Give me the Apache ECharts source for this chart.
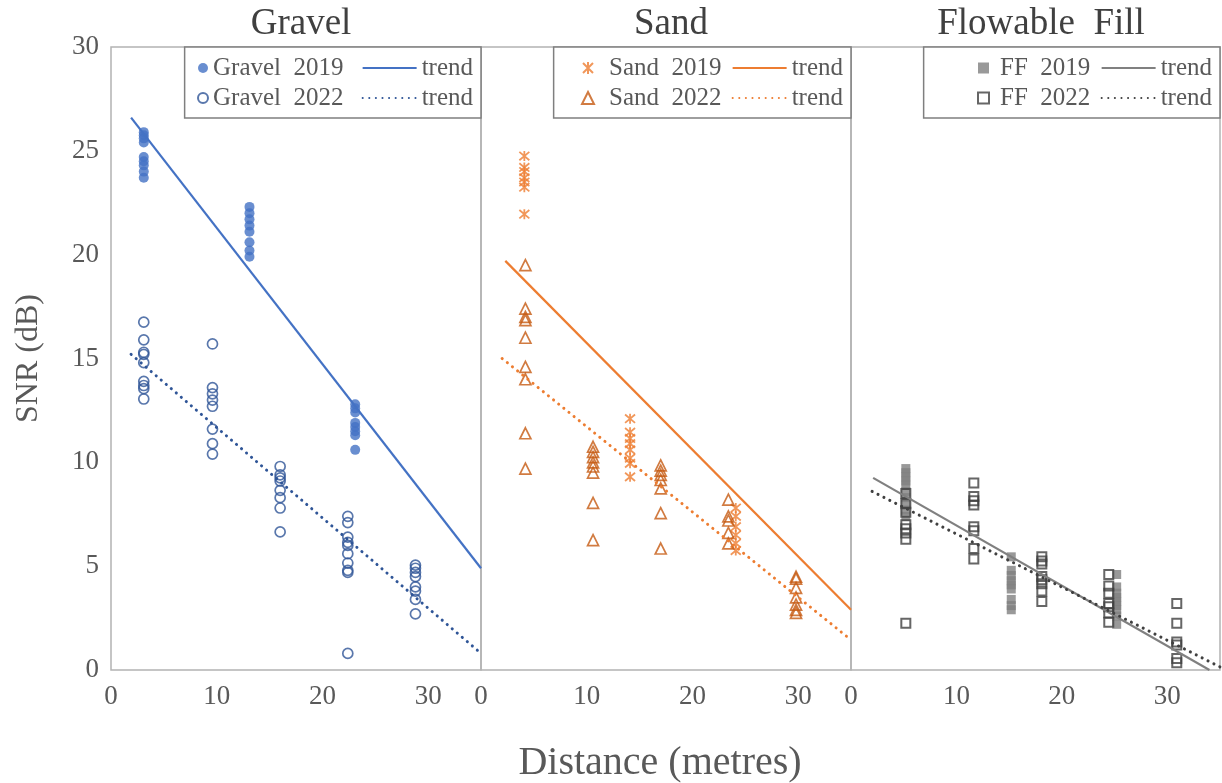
<!DOCTYPE html>
<html>
<head>
<meta charset="utf-8">
<script src="https://cdn.jsdelivr.net/npm/echarts@6/dist/echarts.min.js"></script>
<style>html,body{margin:0;padding:0;background:#fff}#c{width:1222px;height:783px}</style>
</head>
<body>
<div id="c"></div>
<script>
// ---- DATA ----
const panelTitles = ['Gravel', 'Sand', 'Flowable  Fill'];
const xTicks = [0, 10, 20, 30];
const yTicks = [0, 5, 10, 15, 20, 25, 30];

const gravel2019 = [
  [3.1, 25.9], [3.1, 25.75], [3.1, 25.6], [3.1, 25.4], [3.1, 24.7], [3.1, 24.5], [3.1, 24.3], [3.1, 24.0], [3.1, 23.7],
  [13.1, 22.3], [13.1, 22.0], [13.1, 21.7], [13.1, 21.4], [13.1, 21.1], [13.1, 20.6], [13.1, 20.2], [13.1, 19.9],
  [23.1, 12.8], [23.1, 12.6], [23.1, 12.4], [23.1, 11.9], [23.1, 11.7], [23.1, 11.5], [23.1, 11.3], [23.1, 10.6]
];
const gravel2022 = [
  [3.1, 16.75], [3.1, 15.9], [3.1, 15.3], [3.1, 15.2], [3.1, 14.8], [3.1, 13.9], [3.1, 13.7], [3.1, 13.55], [3.1, 13.05],
  [9.6, 15.7], [9.6, 13.6], [9.6, 13.3], [9.6, 13.0], [9.6, 12.7], [9.6, 11.6], [9.6, 10.9], [9.6, 10.4],
  [16.0, 9.8], [16.0, 9.4], [16.0, 9.25], [16.0, 9.1], [16.0, 8.65], [16.0, 8.3], [16.0, 7.8], [16.0, 6.65],
  [22.4, 7.4], [22.4, 7.1], [22.4, 6.4], [22.4, 6.15], [22.4, 6.0], [22.4, 5.6], [22.4, 5.15], [22.4, 4.8], [22.4, 4.7], [22.4, 0.8],
  [28.8, 5.05], [28.8, 4.9], [28.8, 4.7], [28.8, 4.5], [28.8, 4.0], [28.8, 3.8], [28.8, 3.4], [28.8, 2.7]
];
const gravelTrend2019 = [[1.9, 26.6], [35, 4.9]];
const gravelTrend2022 = [[1.9, 15.2], [35, 0.8]];

const sand2019 = [
  [4.1, 24.75], [4.1, 24.2], [4.1, 24.0], [4.1, 23.7], [4.1, 23.5], [4.1, 23.25], [4.1, 21.95],
  [14.1, 12.1], [14.1, 11.45], [14.1, 11.15], [14.1, 10.9], [14.1, 10.6], [14.1, 10.2], [14.1, 9.95], [14.1, 9.3],
  [24.1, 7.8], [24.1, 7.4], [24.1, 6.9], [24.1, 6.5], [24.1, 6.1], [24.1, 5.75]
];
const sand2022 = [
  [4.2, 19.5], [4.2, 17.4], [4.2, 17.0], [4.2, 16.85], [4.2, 16.0], [4.2, 14.6], [4.2, 14.0], [4.2, 11.4], [4.2, 9.7],
  [10.6, 10.75], [10.6, 10.5], [10.6, 10.25], [10.6, 10.0], [10.6, 9.8], [10.6, 9.5], [10.6, 8.05], [10.6, 6.25],
  [17.0, 9.85], [17.0, 9.6], [17.0, 9.4], [17.0, 9.15], [17.0, 8.75], [17.0, 7.55], [17.0, 5.85],
  [23.4, 8.2], [23.4, 7.4], [23.4, 7.2], [23.4, 6.6], [23.4, 6.1],
  [29.8, 4.5], [29.8, 4.4], [29.8, 3.95], [29.8, 3.5], [29.8, 3.15], [29.8, 2.9], [29.8, 2.75]
];
const sandTrend2019 = [[2.3, 19.7], [35, 2.9]];
const sandTrend2022 = [[2.0, 15.0], [35, 1.45]];

const ff2019 = [
  [5.2, 9.7], [5.2, 9.5], [5.2, 9.3], [5.2, 9.1], [5.2, 8.9], [5.2, 8.6], [5.2, 8.3], [5.2, 8.0], [5.2, 7.7], [5.2, 7.4],
  [15.2, 5.45], [15.2, 4.8], [15.2, 4.55], [15.2, 4.3], [15.2, 4.1], [15.2, 3.9], [15.2, 3.4], [15.2, 3.1], [15.2, 2.9],
  [25.2, 4.6], [25.2, 4.0], [25.2, 3.7], [25.2, 3.5], [25.2, 3.3], [25.2, 3.1], [25.2, 2.9], [25.2, 2.6], [25.2, 2.2]
];
const ff2022 = [
  [5.2, 8.5], [5.2, 8.0], [5.2, 7.6], [5.2, 7.0], [5.2, 6.8], [5.2, 6.6], [5.2, 6.3], [5.2, 2.25],
  [11.65, 9.0], [11.65, 8.35], [11.65, 8.15], [11.65, 7.95], [11.65, 6.9], [11.65, 6.7], [11.65, 5.85], [11.65, 5.35],
  [18.1, 5.45], [18.1, 5.25], [18.1, 5.1], [18.1, 4.5], [18.1, 4.35], [18.1, 4.15], [18.1, 3.8], [18.1, 3.3],
  [24.45, 4.6], [24.45, 4.05], [24.45, 3.7], [24.45, 3.2], [24.45, 3.05], [24.45, 2.75], [24.45, 2.3],
  [30.9, 3.2], [30.9, 2.25], [30.9, 1.35], [30.9, 1.2], [30.9, 0.55], [30.9, 0.35]
];
const ffTrend2019 = [[2.1, 9.25], [34, 0]];
const ffTrend2022 = [[2.0, 8.6], [35, 0.15]];

// ---- STYLE ----
const FONT = 'Liberation Serif';
const TXT = '#595959';
const gridLeft = [111, 481, 851];
const gridW = 370;
const asterisk = 'path://M0,0L10,10M10,0L0,10M5,-1L5,11';

const grids = gridLeft.map((l, i) => ({
  left: l, top: 47, width: i === 2 ? 369 : gridW, height: 623,
  show: true, borderColor: '#b3b3b3', borderWidth: 1.5, backgroundColor: 'rgba(0,0,0,0)'
}));

const xAxes = gridLeft.map((l, i) => ({
  type: 'value', gridIndex: i, min: 0, max: 35, interval: 10,
  axisLine: { show: false }, axisTick: { show: false }, splitLine: { show: false },
  axisLabel: {
    showMaxLabel: false, margin: 13, fontFamily: FONT, fontSize: 27, color: TXT,
    formatter: v => (xTicks.indexOf(v) >= 0 ? String(v) : '')
  }
}));
const yAxes = gridLeft.map((l, i) => ({
  type: 'value', gridIndex: i, min: 0, max: 30, interval: 5,
  axisLine: { show: false }, axisTick: { show: false }, splitLine: { show: false },
  axisLabel: {
    show: i === 0, margin: 12, fontFamily: FONT, fontSize: 27, color: TXT,
    formatter: v => (yTicks.indexOf(v) >= 0 ? String(v) : '')
  },
  name: i === 0 ? 'SNR (dB)' : '', nameLocation: 'middle', nameGap: 66, nameRotate: 90,
  nameTextStyle: { fontFamily: FONT, fontSize: 32, color: TXT }
}));

function scatter(name, data, idx, symbol, size, itemStyle, z) {
  return { name, type: 'scatter', xAxisIndex: idx, yAxisIndex: idx, data, symbol, symbolSize: size, itemStyle, z: z || 3, silent: true };
}
function trend(name, data, idx, color, dotted) {
  return {
    name, type: 'line', xAxisIndex: idx, yAxisIndex: idx, data, symbol: 'none', showSymbol: false, z: 4, silent: true,
    itemStyle: { color },
    lineStyle: dotted ? { color, width: 3, type: [0.1, 6.5], cap: 'round' } : { color, width: 2.2, type: 'solid' }
  };
}

const series = [
  scatter('Gravel  2019', gravel2019, 0, 'circle', 10, { color: '#4472C4' }),
  scatter('Gravel  2022', gravel2022, 0, 'circle', 10, { color: 'rgba(255,255,255,0)', borderColor: '#2F5597', borderWidth: 1.7 }, 3.5),
  trend('Gravel trend 2019', gravelTrend2019, 0, '#4472C4', false),
  trend('Gravel trend 2022', gravelTrend2022, 0, '#2F5597', true),
  scatter('Sand  2019', sand2019, 1, asterisk, 10, { color: 'rgba(255,255,255,0)', borderColor: '#ED7D31', borderWidth: 1.8 }),
  scatter('Sand  2022', sand2022, 1, 'triangle', 11, { color: 'rgba(255,255,255,0)', borderColor: '#C55A11', borderWidth: 1.7 }, 3.5),
  trend('Sand trend 2019', sandTrend2019, 1, '#ED7D31', false),
  trend('Sand trend 2022', sandTrend2022, 1, '#ED7D31', true),
  scatter('FF  2019', ff2019, 2, 'rect', 9, { color: '#808080' }),
  scatter('FF  2022', ff2022, 2, 'rect', 9, { color: 'rgba(255,255,255,0)', borderColor: '#404040', borderWidth: 2 }, 3.5),
  trend('FF trend 2019', ffTrend2019, 2, '#808080', false),
  trend('FF trend 2022', ffTrend2022, 2, '#404040', true)
];

const legendText = { fontFamily: FONT, fontSize: 25, color: TXT, lineHeight: 25 };
const boxRight = [481, 851, 1220];
const symLeft = [197, 581, 977];
const symSize = [10, 12, 11];
const textPad = [0, 10, 6];
const names19 = ['Gravel  2019', 'Sand  2019', 'FF  2019'];
const names22 = ['Gravel  2022', 'Sand  2022', 'FF  2022'];
const trendNames = [['Gravel trend 2019', 'Gravel trend 2022'], ['Sand trend 2019', 'Sand trend 2022'], ['FF trend 2019', 'FF trend 2022']];
const boxLeft = [186, 555, 925];

const legends = [];
for (let i = 0; i < 3; i++) {
  const boxW = boxRight[i] - boxLeft[i];
  legends.push({
    orient: 'vertical', right: 1222 - boxRight[i], top: 47, z: 5,
    data: trendNames[i].map(n => ({ name: n, itemStyle: { opacity: 0 } })),
    itemWidth: 54, itemHeight: 14, itemGap: 5,
    padding: [8.5, 8, 7.5, boxW - 8 - 110],
    backgroundColor: '#fff', borderColor: '#7f7f7f', borderWidth: 1.5,
    selectedMode: false, formatter: () => 'trend', textStyle: legendText
  });
  legends.push({
    orient: 'vertical', left: symLeft[i], top: 47, z: 6,
    data: [names19[i], names22[i]], itemWidth: symSize[i], itemHeight: symSize[i], itemGap: 5,
    padding: [8.5, 0, 7.5, 0], selectedMode: false,
    textStyle: Object.assign({}, legendText, { padding: [0, 0, 0, textPad[i]] })
  });
}

const titleStyle = { fontFamily: FONT, fontSize: 37, fontWeight: 'normal', color: '#404040' };
const titles = panelTitles.map((t, i) => ({
  text: t, left: gridLeft[i] + 185, top: 1, textAlign: 'center', textStyle: titleStyle
}));
titles.push({
  text: 'Distance (metres)', left: 655, top: 738, textAlign: 'center',
  textStyle: { fontFamily: FONT, fontSize: 40, fontWeight: 'normal', color: TXT }
});

const chart = echarts.init(document.getElementById('c'), null, { renderer: 'canvas' });
chart.setOption({
  animation: false,
  backgroundColor: '#fff',
  title: titles,
  grid: grids,
  xAxis: xAxes,
  yAxis: yAxes,
  legend: legends,
  series
});
</script>
</body>
</html>
